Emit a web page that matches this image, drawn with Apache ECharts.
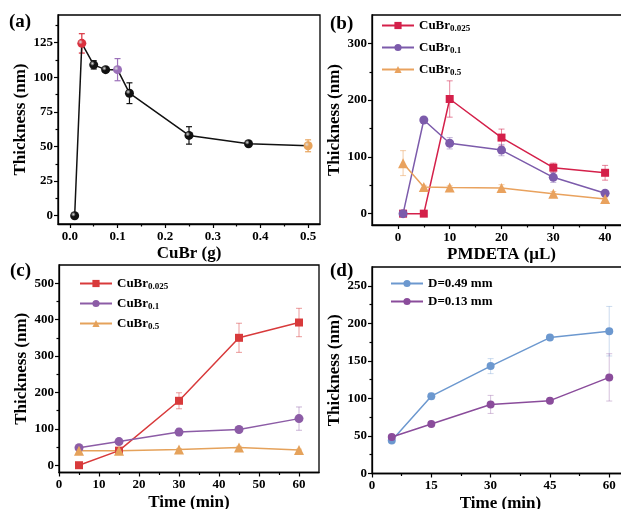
<!DOCTYPE html>
<html>
<head>
<meta charset="utf-8">
<script src="https://cdn.jsdelivr.net/npm/echarts@6/dist/echarts.min.js"></script>
<style>
  html, body { margin: 0; padding: 0; background: #fff; }
  #chart { width: 621px; height: 509px; }
</style>
</head>
<body>
<div id="chart"></div>
<script>
// (a) thickness vs CuBr amount
const aX = [0.01, 0.025, 0.05, 0.075, 0.1, 0.125, 0.25, 0.375, 0.5]
const aY = [0, 124.5, 109, 105.5, 105.5, 88.5, 58, 52, 50.5]
const aErr = [0, 7, 3, 1.5, 8, 7.5, 6.3, 1.5, 4.3]
const aXTicks = [0, 0.1, 0.2, 0.3, 0.4, 0.5]
const aXMinor = [0.05, 0.15, 0.25, 0.35, 0.45]
const aYTicks = [0, 25, 50, 75, 100, 125]
const aYMinor = [12.5, 37.5, 62.5, 87.5, 112.5, 137.5]

// (b) thickness vs PMDETA volume
const bX = [1, 5, 10, 20, 30, 40]
const bRed = [0, 0, 202, 134, 81, 72]
const bRedErr = [0, 0, 32, 15, 8, 13]
const bPurple = [0, 165, 124, 112, 64, 36]
const bPurpleErr = [0, 3, 10, 10, 9, 4]
const bOrange = [89, 47, 46, 45, 35, 26]
const bOrangeErr = [22, 3, 3, 6, 4, 3]
const bXTicks = [0, 10, 20, 30, 40]
const bXMinor = [5, 15, 25, 35]
const bYTicks = [0, 100, 200, 300]
const bYMinor = [50, 150, 250]

// (c) thickness vs time for three CuBr amounts
const cX = [5, 15, 30, 45, 60]
const cRed = [0, 40, 177, 350, 392]
const cRedErr = [0, 3, 22, 40, 39]
const cPurple = [48, 65, 91, 98, 128]
const cPurpleErr = [4, 4, 10, 4, 32]
const cOrange = [40, 40, 43, 49, 42]
const cOrangeErr = [2, 2, 3, 3, 2]
const cXTicks = [0, 10, 20, 30, 40, 50, 60]
const cXMinor = [5, 15, 25, 35, 45, 55]
const cYTicks = [0, 100, 200, 300, 400, 500]
const cYMinor = [50, 150, 250, 350, 450]

// (d) thickness vs time for two diameters
const dX = [5, 15, 30, 45, 60]
const dBlue = [44, 103, 143, 181, 189.5]
const dBlueErr = [2, 4, 10, 3, 33]
const dPurple = [48.5, 66, 92, 97, 128]
const dPurpleErr = [2, 3, 12, 3, 31.5]
const dXTicks = [0, 15, 30, 45, 60]
const dXMinor = [7.5, 22.5, 37.5, 52.5]
const dYTicks = [0, 50, 100, 150, 200, 250]
const dYMinor = [25, 75, 125, 175, 225]

const legendB = ['CuBr_0.025', 'CuBr_0.1', 'CuBr_0.5']
const legendD = ['D=0.49 mm', 'D=0.13 mm']

const FONT = '"Liberation Serif", "Times New Roman", serif'
const RED_A = '#D9323F', PURPLE_A = '#9B70B9', ORANGE_A = '#E8A45C'
const RED_B = '#D4204A', PURPLE_B = '#7C5BAB', ORANGE_B = '#E9A25E'
const RED_C = '#D83A3B', PURPLE_C = '#8C5CA6', ORANGE_C = '#E5A25B'
const BLUE_D = '#6C98CF', PURPLE_D = '#8A4C9B'
// points in (a) drawn in the colour of the matching series elsewhere
const aPointColor = { 1: RED_A, 4: PURPLE_A, 8: ORANGE_A }

const ball = (c) => ({
  type: 'radial', x: 0.35, y: 0.35, r: 0.75,
  colorStops: [{ offset: 0, color: '#ddd' }, { offset: 0.35, color: c }, { offset: 1, color: c }]
})

const black = '#000'
const tickLine = { color: black, width: 1.2 }

function axes(dim, grid, min, max, ticks, minor, fmt, name, gap) {
  const pos = dim === 'x' ? 'bottom' : 'left'
  const main = {
    type: 'value', gridIndex: grid, position: pos, min, max,
    name, nameLocation: 'middle', nameGap: gap,
    nameTextStyle: { fontFamily: FONT, fontWeight: 'bold', fontSize: 17, color: black },
    axisLine: { show: true, onZero: false, lineStyle: { color: black, width: 1.3 } },
    axisTick: { show: true, customValues: ticks, length: 4, lineStyle: tickLine },
    axisLabel: {
      customValues: ticks, formatter: fmt, margin: dim === 'x' ? 6 : 5,
      fontFamily: FONT, fontWeight: 'bold', fontSize: 13, color: black
    },
    splitLine: { show: false }
  }
  const sub = {
    type: 'value', gridIndex: grid, position: pos, min, max,
    axisLine: { show: false, onZero: false },
    axisTick: { show: true, customValues: minor, length: 2.5, lineStyle: tickLine },
    axisLabel: { show: false },
    splitLine: { show: false }
  }
  return [main, sub]
}

function line(name, xi, xs, ys, color, symbol, size) {
  return {
    name, type: 'line', xAxisIndex: xi * 2, yAxisIndex: xi * 2, z: 3,
    data: xs.map((x, i) => [x, ys[i]]),
    symbol, symbolSize: size,
    lineStyle: { color, width: 1.5 },
    itemStyle: { color },
    emphasis: { disabled: true }
  }
}

function errors(xi, xs, ys, errs, color, opacity) {
  return {
    type: 'custom', xAxisIndex: xi * 2, yAxisIndex: xi * 2, z: 2, silent: true,
    data: xs.map((x, i) => [x, ys[i], errs[i]]),
    renderItem: (params, api) => {
      const x = api.value(0), y = api.value(1), e = api.value(2)
      if (!e) return { type: 'group', children: [] }
      const hi = api.coord([x, y + e]), lo = api.coord([x, y - e])
      const w = 3
      const style = { stroke: color, lineWidth: 1, opacity }
      return {
        type: 'group',
        children: [
          { type: 'line', shape: { x1: hi[0], y1: hi[1], x2: lo[0], y2: lo[1] }, style },
          { type: 'line', shape: { x1: hi[0] - w, y1: hi[1], x2: hi[0] + w, y2: hi[1] }, style },
          { type: 'line', shape: { x1: lo[0] - w, y1: lo[1], x2: lo[0] + w, y2: lo[1] }, style }
        ]
      }
    }
  }
}

const legendText = {
  fontFamily: FONT, fontWeight: 'bold', fontSize: 13, color: black,
  rich: {
    m: { fontFamily: FONT, fontWeight: 'bold', fontSize: 13, color: black },
    s: { fontFamily: FONT, fontWeight: 'bold', fontSize: 9, color: black, padding: [7, 0, 0, 0] }
  }
}
const subFmt = (n) => {
  const p = n.split('_')
  return p.length > 1 ? '{m|' + p[0] + '}{s|' + p[1] + '}' : '{m|' + n + '}'
}

const panelLabel = (text, left, top) => ({
  type: 'text', left, top,
  style: { text, fontFamily: FONT, fontWeight: 'bold', fontSize: 19, fill: black }
})

const gridBox = { show: true, borderColor: black, borderWidth: 1.3, backgroundColor: 'transparent', outerBoundsMode: 'none' }
const int = (v) => String(v)

const option = {
  animation: false,
  backgroundColor: '#fff',
  grid: [
    { ...gridBox, left: 58, top: 15, width: 262, height: 209 },
    { ...gridBox, left: 372, top: 15, width: 259, height: 210 },
    { ...gridBox, left: 59, top: 265, width: 260, height: 207.5 },
    { ...gridBox, left: 372, top: 267, width: 257, height: 206.5 }
  ],
  xAxis: [
    ...axes('x', 0, -0.025, 0.525, aXTicks, aXMinor, (v) => v.toFixed(1), 'CuBr (g)', 21),
    ...axes('x', 1, -5, 45, bXTicks, bXMinor, int, 'PMDETA (μL)', 21),
    ...axes('x', 2, 0, 65, cXTicks, cXMinor, int, 'Time (min)', 22),
    ...axes('x', 3, 0, 65, dXTicks, dXMinor, int, 'Time (min)', 22)
  ],
  yAxis: [
    ...axes('y', 0, -6, 145, aYTicks, aYMinor, int, 'Thickness (nm)', 21),
    ...axes('y', 1, -20, 350, bYTicks, bYMinor, int, 'Thickness (nm)', 25),
    ...axes('y', 2, -20, 550, cYTicks, cYMinor, int, 'Thickness (nm)', 26),
    ...axes('y', 3, 0, 275, dYTicks, dYMinor, int, 'Thickness (nm)', 27)
  ],
  legend: [
    {
      data: legendB.map((name) => ({ name })), left: 376, top: 14, orient: 'vertical',
      itemWidth: 32, itemHeight: 9, itemGap: 7.5, selectedMode: false,
      formatter: subFmt, textStyle: legendText
    },
    {
      data: legendB.map((name) => ({ name: name + ' ' })), left: 74, top: 272, orient: 'vertical',
      itemWidth: 32, itemHeight: 9, itemGap: 5.5, selectedMode: false,
      formatter: (n) => subFmt(n.trim()), textStyle: legendText
    },
    {
      data: legendD, left: 385, top: 272, orient: 'vertical',
      itemWidth: 32, itemHeight: 9, itemGap: 5, selectedMode: false,
      textStyle: legendText
    }
  ],
  series: [
    // (a)
    {
      type: 'custom', xAxisIndex: 0, yAxisIndex: 0, z: 2, silent: true,
      data: aX.map((x, i) => [x, aY[i], aErr[i], i]),
      renderItem: (params, api) => {
        const x = api.value(0), y = api.value(1), e = api.value(2)
        const color = aPointColor[api.value(3)] || '#111'
        const hi = api.coord([x, y + e]), lo = api.coord([x, y - e])
        const style = { stroke: color, lineWidth: 1.2 }
        return {
          type: 'group',
          children: [
            { type: 'line', shape: { x1: hi[0], y1: hi[1], x2: lo[0], y2: lo[1] }, style },
            { type: 'line', shape: { x1: hi[0] - 3, y1: hi[1], x2: hi[0] + 3, y2: hi[1] }, style },
            { type: 'line', shape: { x1: lo[0] - 3, y1: lo[1], x2: lo[0] + 3, y2: lo[1] }, style }
          ]
        }
      }
    },
    {
      type: 'line', xAxisIndex: 0, yAxisIndex: 0, z: 3,
      symbol: 'circle', symbolSize: 9,
      lineStyle: { color: '#111', width: 1.5 },
      emphasis: { disabled: true },
      data: aX.map((x, i) => ({
        value: [x, aY[i]],
        itemStyle: { color: ball(aPointColor[i] || '#111') }
      }))
    },
    // (b)
    errors(1, bX, bRed, bRedErr, RED_B, 0.55),
    errors(1, bX, bPurple, bPurpleErr, PURPLE_B, 0.45),
    errors(1, bX, bOrange, bOrangeErr, ORANGE_B, 0.55),
    line(legendB[0], 1, bX, bRed, RED_B, 'rect', 8),
    line(legendB[1], 1, bX, bPurple, PURPLE_B, 'circle', 9),
    line(legendB[2], 1, bX, bOrange, ORANGE_B, 'triangle', 10),
    // (c)
    errors(2, cX, cRed, cRedErr, RED_C, 0.5),
    errors(2, cX, cPurple, cPurpleErr, PURPLE_C, 0.45),
    errors(2, cX, cOrange, cOrangeErr, ORANGE_C, 0.5),
    line(legendB[0] + ' ', 2, cX, cRed, RED_C, 'rect', 8),
    line(legendB[1] + ' ', 2, cX, cPurple, PURPLE_C, 'circle', 9),
    line(legendB[2] + ' ', 2, cX, cOrange, ORANGE_C, 'triangle', 10),
    // (d)
    errors(3, dX, dBlue, dBlueErr, BLUE_D, 0.35),
    errors(3, dX, dPurple, dPurpleErr, PURPLE_D, 0.35),
    line(legendD[0], 3, dX, dBlue, BLUE_D, 'circle', 8),
    line(legendD[1], 3, dX, dPurple, PURPLE_D, 'circle', 8)
  ],
  graphic: [
    panelLabel('(a)', 9, 13),
    panelLabel('(b)', 330, 15),
    panelLabel('(c)', 10, 262),
    panelLabel('(d)', 330, 262)
  ]
}

const chart = echarts.init(document.getElementById('chart'), null, { renderer: 'canvas' })
chart.setOption(option)
</script>
</body>
</html>
